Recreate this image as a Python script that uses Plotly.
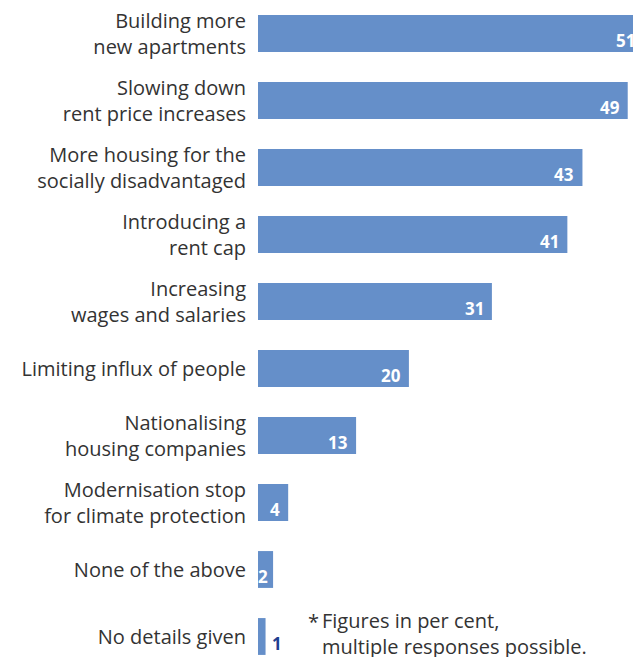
import plotly.graph_objects as go

categories = [
    "Building more<br>new apartments",
    "Slowing down<br>rent price increases",
    "More housing for the<br>socially disadvantaged",
    "Introducing a<br>rent cap",
    "Increasing<br>wages and salaries",
    "Limiting influx of people",
    "Nationalising<br>housing companies",
    "Modernisation stop<br>for climate protection",
    "None of the above",
    "No details given",
]
values = [51, 49, 43, 41, 31, 20, 13, 4, 2, 1]
footnote = ["Figures in per cent,", "multiple responses possible."]

BAR = "#658FC9"
TEXT = "#333333"
FONT = "Open Sans"
XMAX = 49.7
PX_PER_UNIT = 375 / XMAX  # plot area is 375 px wide

fig = go.Figure()
fig.add_trace(go.Bar(
    x=values,
    y=list(range(len(categories))),
    orientation="h",
    marker=dict(color=BAR, line_width=0),
    width=0.55,
    hoverinfo="skip",
))

# value labels sit at the bottom right inside each bar
for i, v in enumerate(values):
    small = v < 2
    xpos = min(v, XMAX)  # the top bar runs off the edge; keep its label drawn
    pad = -6 if v > 3 else -3
    fig.add_annotation(
        x=xpos, y=i, xref="x", yref="y",
        text=f"<b>{v}</b>",
        showarrow=False,
        xanchor="left" if small else "right",
        yanchor="middle",
        xshift=(4 if small else pad) + (v - xpos) * PX_PER_UNIT,
        yshift=-7,
        font=dict(family=FONT, size=17, color="#1F3F8F" if small else "white"),
    )

fig.add_annotation(x=0.128, y=0, xref="paper", yref="paper", text="*",
                   showarrow=False, xanchor="left", yanchor="bottom", yshift=20,
                   font=dict(family=FONT, size=20, color=TEXT))
fig.add_annotation(x=0.166, y=0, xref="paper", yref="paper",
                   text="<br>".join(footnote), align="left",
                   showarrow=False, xanchor="left", yanchor="bottom", yshift=-5,
                   font=dict(family=FONT, size=20, color=TEXT))

fig.update_layout(
    width=633, height=657,
    margin=dict(l=258, r=0, t=0, b=0),
    paper_bgcolor="white", plot_bgcolor="white",
    showlegend=False,
    font=dict(family=FONT, size=20, color=TEXT),
    xaxis=dict(range=[0, XMAX], visible=False, fixedrange=True),
    yaxis=dict(
        range=[9.306, -0.5],
        tickmode="array",
        tickvals=list(range(len(categories))),
        ticktext=categories,
        showgrid=False, zeroline=False, showline=False,
        ticks="", ticklabelstandoff=11,
        tickfont=dict(family=FONT, size=20, color=TEXT),
        fixedrange=True,
    ),
)

fig.write_html("out.html", config={"displayModeBar": False},
               post_script="document.body.style.margin='0';")
